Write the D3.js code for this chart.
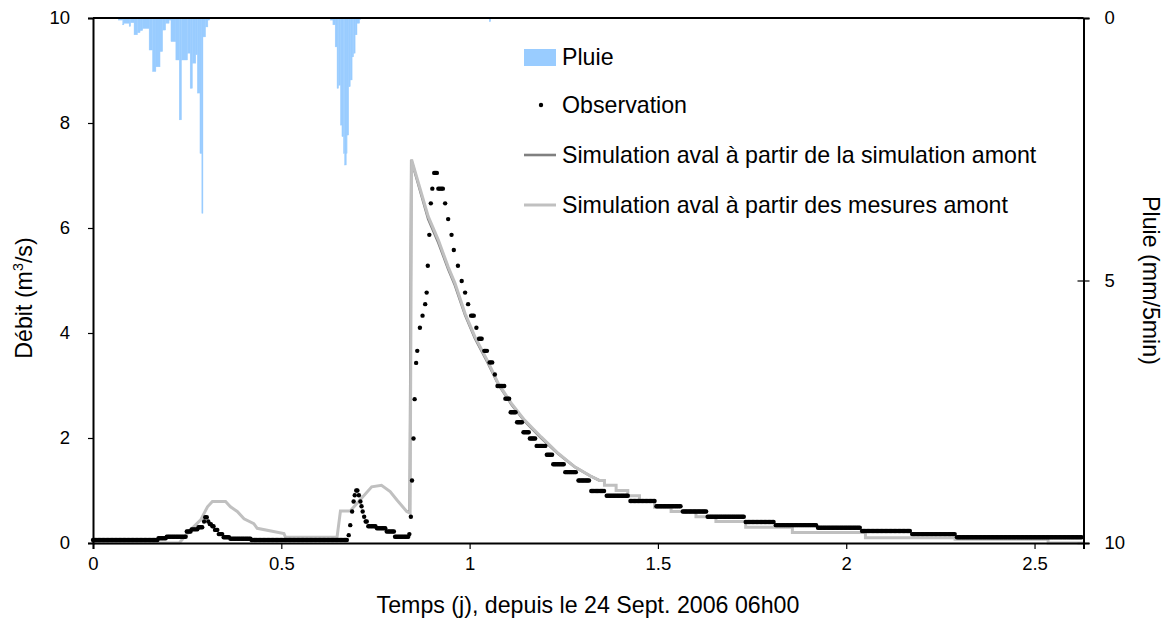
<!DOCTYPE html>
<html><head><meta charset="utf-8">
<script src="https://cdn.jsdelivr.net/npm/d3@7"></script>
<style>
body{margin:0;background:#fff}
svg text{font-family:"Liberation Sans",Arial,sans-serif;fill:#000}
</style>
</head><body>
<svg id="c" width="1171" height="631"></svg>
<script>
// ---------- data ----------
const xTicks = [0, 0.5, 1, 1.5, 2, 2.5];
const xTickLabels = ["0", "0.5", "1", "1.5", "2", "2.5"];
const yTicks = [0, 2, 4, 6, 8, 10];
const rainTicks = [0, 5, 10];

// rain: [t start (d), t end (d), mm/5min]
const rain = [
  [0.067,0.079,0.04],[0.079,0.082,0.13],[0.082,0.096,0.10],[0.096,0.100,0.16],[0.100,0.109,0.09],
  [0.109,0.118,0.32],[0.118,0.125,0.28],[0.125,0.132,0.24],[0.132,0.149,0.20],[0.149,0.158,0.61],
  [0.158,0.167,1.02],[0.167,0.178,0.93],[0.178,0.185,0.64],[0.185,0.193,0.23],[0.193,0.202,0.10],
  [0.202,0.207,0.04],[0.207,0.220,0.45],[0.220,0.229,0.80],[0.229,0.235,1.94],[0.235,0.251,0.80],
  [0.251,0.258,0.67],[0.258,0.264,1.34],[0.264,0.273,0.86],[0.273,0.277,0.70],[0.277,0.284,1.43],
  [0.284,0.289,2.58],[0.289,0.292,3.72],[0.292,0.299,0.36],[0.299,0.305,0.17],[0.305,0.310,0.04],
  [0.630,0.637,0.04],[0.637,0.643,0.13],[0.643,0.648,0.55],[0.648,0.652,1.34],[0.652,0.657,1.28],
  [0.657,0.661,2.04],[0.661,0.665,2.26],[0.665,0.668,2.58],[0.668,0.6725,2.80],[0.6725,0.674,2.58],
  [0.674,0.679,2.23],[0.679,0.683,1.31],[0.683,0.688,1.18],[0.688,0.692,0.74],[0.692,0.696,0.67],
  [0.696,0.701,0.32],[0.701,0.708,0.10],[0.708,0.711,0.03],
  [1.052,1.056,0.07]
];

// observation runs: [t first (d), t last (d), m3/s], one record every 5 min
const obsRuns = [
  [0,0.171,0.057],[0.174,0.193,0.09],[0.196,0.246,0.12],[0.249,0.259,0.22],[0.262,0.277,0.26],
  [0.280,0.290,0.30],[0.295,0.295,0.41],[0.298,0.302,0.49],[0.306,0.306,0.41],[0.310,0.313,0.36],
  [0.317,0.320,0.32],[0.324,0.330,0.25],[0.334,0.343,0.17],[0.347,0.361,0.11],[0.365,0.418,0.08],
  [0.421,0.674,0.057],
  [0.679,0.679,0.15],[0.683,0.683,0.34],[0.688,0.688,0.60],[0.692,0.692,0.79],[0.695,0.695,0.91],
  [0.699,0.702,1.00],[0.706,0.706,0.91],[0.710,0.710,0.79],[0.713,0.713,0.70],[0.716,0.716,0.60],
  [0.720,0.720,0.50],[0.724,0.727,0.41],[0.731,0.750,0.32],[0.754,0.776,0.28],[0.780,0.799,0.22],
  [0.802,0.837,0.12],[0.840,0.840,0.17],
  [0.844,0.844,0.50],[0.847,0.847,1.19],[0.851,0.851,1.99],[0.854,0.854,2.74],[0.858,0.858,3.43],
  [0.861,0.861,3.66],[0.868,0.868,4.10],[0.875,0.875,4.33],[0.882,0.882,4.55],[0.886,0.886,4.77],
  [0.889,0.889,5.28],[0.893,0.893,5.87],[0.897,0.897,6.47],[0.901,0.901,6.75],[0.906,0.913,7.05],
  [0.917,0.929,6.75],[0.935,0.935,6.47],[0.943,0.943,6.17],[0.952,0.952,5.87],[0.958,0.958,5.58],
  [0.969,0.969,5.28],[0.979,0.979,4.99],[0.988,0.988,4.77],[0.996,0.996,4.55],[1.004,1.011,4.33],
  [1.018,1.018,4.10],[1.025,1.032,3.89],[1.039,1.046,3.66],[1.053,1.060,3.44],[1.067,1.067,3.21],
  [1.074,1.092,2.99],[1.095,1.105,2.75],[1.109,1.122,2.49],[1.126,1.139,2.30],[1.143,1.157,2.11],
  [1.160,1.174,1.99],[1.178,1.201,1.85],[1.205,1.219,1.68],[1.222,1.250,1.50],[1.254,1.282,1.35],
  [1.289,1.317,1.19],[1.323,1.357,0.99],[1.364,1.420,0.90],[1.427,1.491,0.80],[1.496,1.560,0.70],
  [1.566,1.628,0.60],[1.632,1.728,0.50],[1.733,1.807,0.40],[1.813,1.920,0.34],[1.925,2.036,0.29],
  [2.042,2.169,0.23],[2.175,2.288,0.17],[2.294,2.625,0.11]
];

// simulation aval à partir des mesures amont: [t, m3/s]
const simFromMeas = [
  [0,0],[0.229,0],[0.259,0.25],[0.286,0.44],[0.304,0.69],[0.317,0.79],[0.352,0.79],[0.365,0.69],
  [0.383,0.60],[0.401,0.46],[0.427,0.37],[0.436,0.28],[0.507,0.18],[0.511,0.11],[0.648,0.11],
  [0.657,0.61],[0.683,0.61],[0.740,1.07],[0.766,1.10],[0.789,0.98],[0.807,0.82],[0.833,0.60],
  [0.842,0.57],[0.846,7.30],[0.890,6.22],[0.917,5.77],[0.943,5.26],[0.961,4.95],[0.988,4.37],
  [1.014,3.93],[1.049,3.45],[1.076,3.04],[1.111,2.66],[1.146,2.34],[1.190,2.02],[1.235,1.71],
  [1.279,1.45],[1.320,1.28],[1.345,1.19],[1.358,1.19],[1.358,1.10],[1.389,1.10],[1.389,1.00],
  [1.420,1.00],[1.420,0.90],[1.451,0.90],[1.451,0.79],[1.491,0.79],[1.491,0.68],[1.535,0.68],
  [1.535,0.60],[1.601,0.60],[1.601,0.50],[1.654,0.50],[1.654,0.41],[1.733,0.41],[1.733,0.30],
  [1.857,0.30],[1.857,0.20],[2.051,0.20],[2.051,0.10],[2.289,0.10],[2.289,0.07],[2.536,0.07],
  [2.536,0.00],[2.63,0.00]
];

// simulation aval à partir de la simulation amont: [t, m3/s]
const simFromSim = [
  [0.833,0.60],[0.841,0.60],[0.845,7.30],[0.890,6.17],[0.917,5.72],[0.943,5.22],[0.961,4.91],
  [0.988,4.34],[1.014,3.90],[1.049,3.42],[1.076,3.02],[1.111,2.64],[1.146,2.32],[1.190,2.00],
  [1.235,1.70],[1.279,1.45],[1.320,1.28],[1.345,1.19]
];

const legendLabels = ["Pluie", "Observation",
  "Simulation aval à partir de la simulation amont",
  "Simulation aval à partir des mesures amont"];

// ---------- chart ----------
const m = {l: 93, r: 1083.5, t: 18, b: 543};
const svg = d3.select("#c");
const x = d3.scaleLinear().domain([0, 2.63]).range([m.l, m.r]);
const y = d3.scaleLinear().domain([0, 10]).range([m.b, m.t]);
const yR = d3.scaleLinear().domain([0, 10]).range([m.t, m.b]);
const FS = 18.5;   // tick labels
const FT = 23.2;   // titles and legend

// rain bars
svg.append("g").selectAll("rect").data(rain).join("rect")
  .attr("x", d => x(d[0])).attr("width", d => Math.max(0.8, x(d[1]) - x(d[0])))
  .attr("y", yR(0)).attr("height", d => yR(d[2]) - yR(0))
  .attr("fill", "#99ccff").attr("stroke", "#99ccff").attr("stroke-width", 0.4);

// simulations
const line = d3.line().x(d => x(d[0])).y(d => y(d[1]));
svg.append("path").datum(simFromSim).attr("d", line)
  .attr("fill", "none").attr("stroke", "#808080").attr("stroke-width", 2.6);
svg.append("path").datum(simFromMeas).attr("d", line)
  .attr("fill", "none").attr("stroke", "#c0c0c0").attr("stroke-width", 3);

// observations
const dt = 1 / 288;
const obsPts = [];
obsRuns.forEach(([t0, t1, q]) => {
  const n = Math.max(1, Math.round((t1 - t0) / dt) + 1);
  for (let i = 0; i < n; i++) obsPts.push([n === 1 ? t0 : t0 + i * (t1 - t0) / (n - 1), q]);
});
svg.append("g").selectAll("circle").data(obsPts).join("circle")
  .attr("cx", d => x(d[0])).attr("cy", d => y(d[1])).attr("r", 2.2).attr("fill", "#000");

// frame top
svg.append("line").attr("x1", m.l).attr("x2", m.r).attr("y1", m.t).attr("y2", m.t)
  .attr("stroke", "#000").attr("stroke-width", 2);

// axes
const ax = svg.append("g").attr("transform", `translate(0,${m.b})`)
  .call(d3.axisBottom(x).tickValues(xTicks).tickFormat((d, i) => xTickLabels[i]).tickSize(6).tickPadding(8));
const ay = svg.append("g").attr("transform", `translate(${m.l},0)`)
  .call(d3.axisLeft(y).tickValues(yTicks).tickSize(5).tickPadding(18));
const ayR = svg.append("g").attr("transform", `translate(${m.r},0)`)
  .call(d3.axisRight(yR).tickValues(rainTicks).tickSize(6).tickPadding(15));
ayR.selectAll(".tick line").attr("x1", -6);
[ax, ay, ayR].forEach(g => {
  g.select(".domain").attr("stroke", "#000").attr("stroke-width", 2);
  g.selectAll(".tick line").attr("stroke", "#000").attr("stroke-width", 1.2);
  g.selectAll(".tick text").attr("font-size", FS).attr("font-family", "Liberation Sans, Arial, sans-serif");
});

// titles
svg.append("text").attr("x", 588).attr("y", 613).attr("text-anchor", "middle")
  .attr("font-size", FT).text("Temps (j), depuis le 24 Sept. 2006 06h00");
const tl = svg.append("text").attr("transform", `translate(32,298) rotate(-90)`)
  .attr("text-anchor", "middle").attr("font-size", FT);
tl.append("tspan").text("Débit (m");
tl.append("tspan").attr("font-size", FT * 0.62).attr("dy", -9).text("3");
tl.append("tspan").attr("dy", 9).text("/s)");
svg.append("text").attr("transform", `translate(1143,${(m.t + m.b) / 2}) rotate(90)`)
  .attr("text-anchor", "middle").attr("font-size", FT).text("Pluie (mm/5min)");

// legend
const lg = svg.append("g");
const lx = 524, tx = 562, rows = [57, 105, 155, 205];
lg.append("rect").attr("x", lx).attr("y", rows[0] - 8).attr("width", 32).attr("height", 17).attr("fill", "#99ccff");
lg.append("circle").attr("cx", lx + 17).attr("cy", rows[1]).attr("r", 2.2).attr("fill", "#000");
lg.append("line").attr("x1", lx).attr("x2", lx + 32).attr("y1", rows[2]).attr("y2", rows[2])
  .attr("stroke", "#808080").attr("stroke-width", 2.6);
lg.append("line").attr("x1", lx).attr("x2", lx + 32).attr("y1", rows[3]).attr("y2", rows[3])
  .attr("stroke", "#c0c0c0").attr("stroke-width", 3);
lg.selectAll("text").data(legendLabels).join("text")
  .attr("x", tx).attr("y", (d, i) => rows[i]).attr("dy", "0.36em").attr("font-size", FT).text(d => d);
</script>
</body></html>
